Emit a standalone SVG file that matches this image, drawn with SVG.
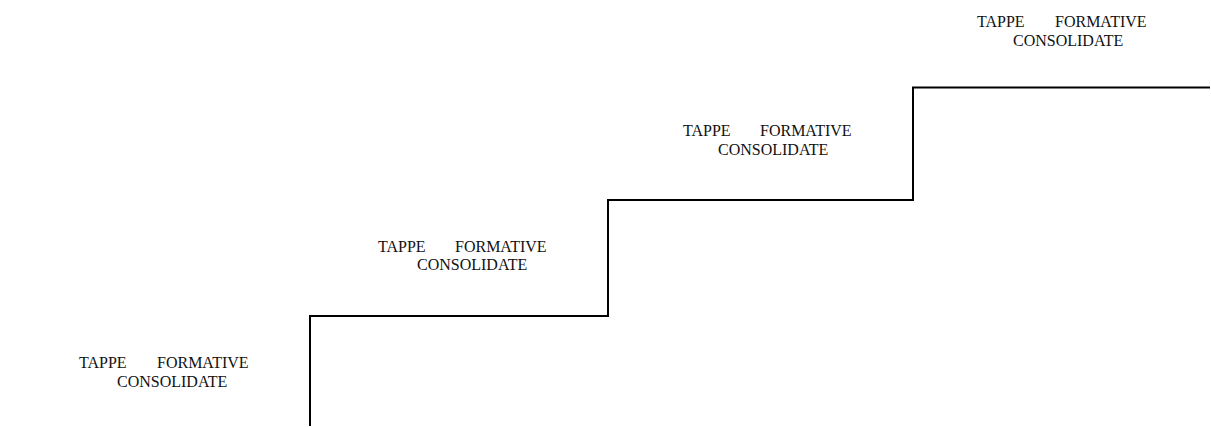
<svg xmlns="http://www.w3.org/2000/svg" width="1211" height="427" viewBox="0 0 1211 427">
<style>
.lbl{font-family:"Liberation Serif","Times New Roman",serif;font-size:16px;fill:#111}
.step{fill:none;stroke:#000;stroke-width:2}
</style>
<rect width="1211" height="427" fill="#fff"/>
<g id="connectors">
<path class="step" d="M310 426 V316 H608 V200 H913 V87.5 H1210"/>
</g>
<g id="step1"><text class="lbl"><tspan x="79" y="368">TAPPE</tspan><tspan x="157" y="368">FORMATIVE</tspan><tspan x="117" y="387">CONSOLIDATE</tspan></text></g>
<g id="step2"><text class="lbl"><tspan x="378" y="252">TAPPE</tspan><tspan x="455" y="252">FORMATIVE</tspan><tspan x="417" y="270">CONSOLIDATE</tspan></text></g>
<g id="step3"><text class="lbl"><tspan x="683" y="136">TAPPE</tspan><tspan x="760" y="136">FORMATIVE</tspan><tspan x="718" y="155">CONSOLIDATE</tspan></text></g>
<g id="step4"><text class="lbl"><tspan x="977" y="27">TAPPE</tspan><tspan x="1055" y="27">FORMATIVE</tspan><tspan x="1013" y="46">CONSOLIDATE</tspan></text></g>
</svg>
